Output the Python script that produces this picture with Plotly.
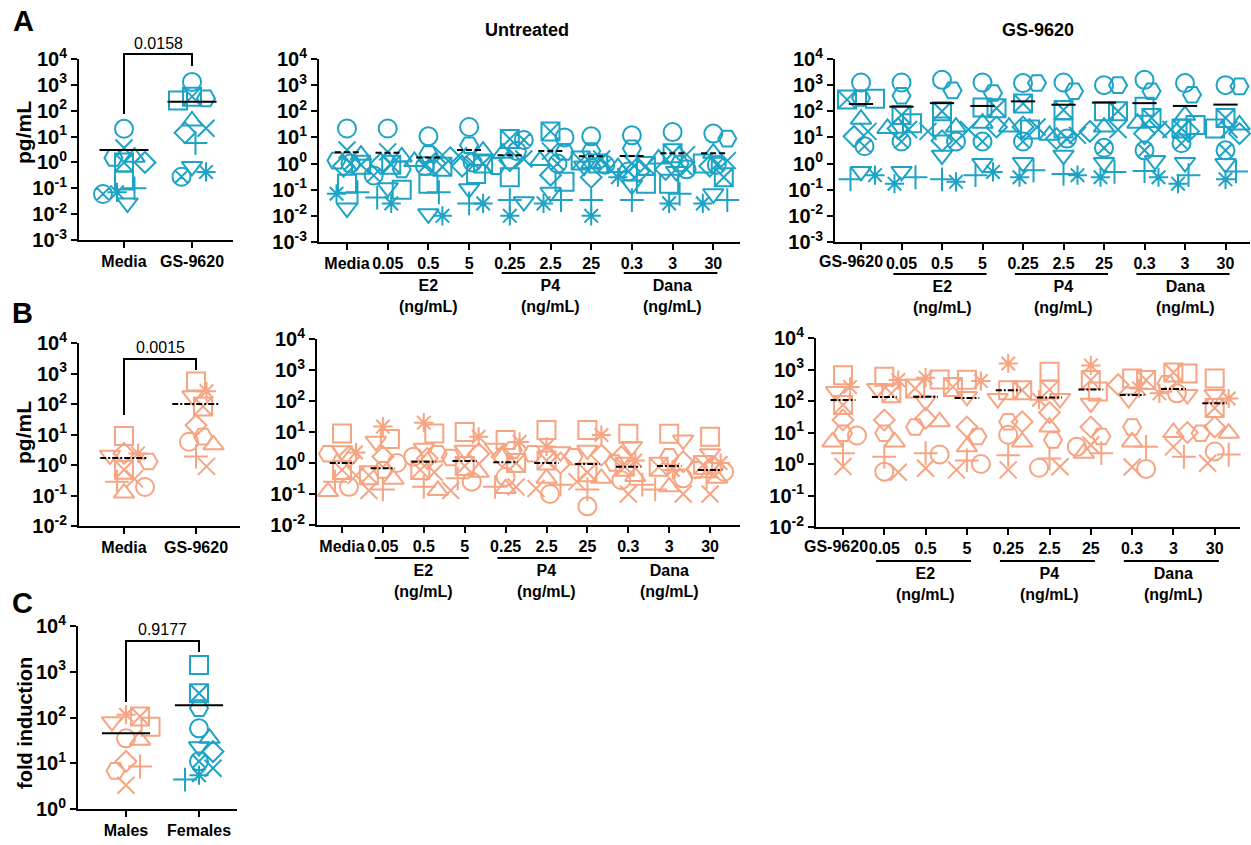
import numpy as np
import plotly.graph_objects as go

W, H = 1251, 845
FONT = "Liberation Sans, Arial, sans-serif"
BLUE = "#1DA3C6"
SALMON = "#F6A482"

# ---------------------------------------------------------------- data
# donor order used by every value list below
FEMALE_DONORS = ["circle", "square", "tri_up", "tri_down", "diamond", "hexagon",
                 "x", "plus", "asterisk", "boxed_x", "circled_x"]
MALE_DONORS = FEMALE_DONORS[:10]

SMALL_GROUPS = ["Media", "GS-9620"]
UNTREATED_GROUPS = ["Media", "0.05", "0.5", "5", "0.25", "2.5", "25", "0.3", "3", "30"]
GS_GROUPS = ["GS-9620", "0.05", "0.5", "5", "0.25", "2.5", "25", "0.3", "3", "30"]
SEX_GROUPS = ["Males", "Females"]
HORMONES = [("E2", (1, 3)), ("P4", (4, 6)), ("Dana", (7, 9))]

# A: females, pg/mL (one list per group, values in FEMALE_DONORS order)
A_SMALL = [
    [20, 0.2, 1.6, 0.027, 1.0, 1.5, 3.6, 0.1, 0.07, 1.0, 0.06],
    [1300, 250, 40, 0.7, 14, 300, 21, 5.6, 0.43, 350, 0.28],
]
A_SMALL_MEAN = [3.0, 220]

A_UNTREATED = [
    [22, 0.17, 2.1, 0.02, 0.8, 1.3, 3.3, 0.08, 0.07, 0.9, 1.0],
    [22, 0.1, 1.8, 0.12, 1.0, 0.6, 2.8, 0.05, 0.03, 0.9, 0.35],
    [11, 0.17, 1.2, 0.012, 1.0, 2.3, 2.1, 0.08, 0.01, 0.75, 0.8],
    [25, 0.4, 3.0, 0.11, 0.8, 5.0, 2.0, 0.03, 0.03, 1.0, 1.1],
    [3.0, 0.3, 2.5, 0.035, 1.3, 0.8, 1.5, 0.04, 0.01, 8.7, 8.0],
    [10, 0.2, 1.3, 0.08, 0.36, 2.8, 3.0, 0.04, 0.03, 17, 1.0],
    [11, 1.0, 1.0, 0.8, 0.3, 3.0, 1.5, 0.04, 0.01, 1.3, 0.9],
    [12, 0.17, 0.7, 0.15, 0.5, 3.8, 1.0, 0.04, 0.3, 0.8, 0.5],
    [16, 0.17, 1.5, 0.5, 0.6, 1.0, 2.2, 0.07, 0.03, 2.5, 0.6],
    [14, 1.0, 2.5, 0.07, 0.8, 9.0, 1.3, 0.04, 0.03, 0.3, 0.9],
]
A_UNTREATED_MEAN = [2.7, 2.6, 1.7, 3.3, 2.1, 3.0, 1.9, 1.95, 2.5, 2.5]

A_GS = [
    [1260, 300, 50, 0.5, 11, 320, 17, 0.25, 0.36, 280, 4.6],
    [1260, 35, 22, 0.5, 22, 390, 20, 0.3, 0.17, 72, 7],
    [1600, 26, 25, 2.1, 7.5, 630, 17, 0.25, 0.2, 100, 7],
    [1260, 140, 35, 1.0, 25, 500, 20, 0.36, 0.48, 130, 7],
    [1200, 20, 25, 1.1, 25, 1200, 25, 0.55, 0.3, 200, 7],
    [1260, 22, 12, 2.1, 9, 580, 12, 0.4, 0.36, 112, 9],
    [1000, 100, 25, 1.1, 17, 1000, 20, 0.48, 0.3, 100, 4],
    [1600, 150, 35, 1.3, 14, 580, 20, 0.52, 0.3, 55, 3.2],
    [1200, 30, 70, 1.1, 17, 430, 20, 0.36, 0.17, 22, 6],
    [1000, 22, 30, 1.0, 14, 900, 20, 0.5, 0.25, 55, 3.2],
]
A_GS_MEAN = [190, 150, 205, 160, 240, 178, 215, 205, 160, 180]

# B: males, pg/mL (values in MALE_DONORS order)
B_SMALL = [
    [0.19, 9, 0.12, 2.1, 2.4, 1.3, 0.35, 0.28, 2.4, 0.7],
    [5.8, 550, 4.6, 185, 20, 8.5, 0.9, 1.9, 260, 83],
]
B_SMALL_MEAN = [1.7, 100]

B_UNTREATED = [
    [0.17, 9, 0.12, 2.5, 1.6, 2.0, 0.4, 0.25, 2.2, 0.6],
    [1.0, 6, 0.3, 5, 1.6, 0.6, 0.13, 0.14, 15, 0.4],
    [1.6, 9, 0.13, 3, 1.4, 2.0, 0.5, 0.17, 20, 0.6],
    [0.25, 10, 0.5, 2.6, 2.0, 1.5, 0.13, 0.32, 7, 0.8],
    [0.36, 5.5, 0.15, 3, 1.6, 2.6, 0.17, 0.17, 4.8, 1.0],
    [0.1, 11.5, 0.32, 2.3, 1.0, 2.0, 0.15, 0.2, 3.4, 1.2],
    [0.04, 11.5, 0.32, 2.6, 1.8, 1.6, 0.25, 0.14, 8, 0.5],
    [0.28, 8.7, 0.37, 3.4, 1.6, 1.0, 0.1, 0.2, 1.2, 0.75],
    [0.32, 8.7, 0.17, 5.5, 1.1, 1.6, 0.1, 0.14, 0.6, 0.75],
    [0.52, 7, 0.32, 2.0, 0.75, 0.6, 0.1, 0.35, 1.0, 0.86],
]
B_UNTREATED_MEAN = [1.0, 0.68, 1.1, 1.15, 1.05, 1.0, 0.93, 0.76, 0.8, 0.6]

B_GS = [
    [8, 660, 5, 200, 25, 9.5, 0.83, 2.2, 280, 75],
    [0.57, 590, 5, 250, 25, 9.5, 0.55, 1.7, 460, 175],
    [2.0, 480, 22, 100, 28, 15, 0.73, 2.2, 550, 250],
    [1.0, 470, 3.5, 140, 15, 7.5, 0.65, 1.3, 430, 280],
    [8.5, 220, 5, 120, 22, 22, 0.65, 1.9, 1550, 220],
    [0.76, 850, 15, 120, 43, 5.8, 0.82, 1.5, 110, 230],
    [3.5, 200, 2.2, 85, 15, 7.5, 4, 2.2, 1350, 460],
    [0.7, 520, 5, 120, 330, 15, 0.8, 3.5, 250, 460],
    [175, 740, 10, 160, 10, 350, 3.5, 1.7, 175, 800],
    [2.5, 520, 9.5, 160, 15, 9.5, 1.05, 2.0, 120, 60],
]
B_GS_MEAN = [107, 135, 137, 125, 220, 130, 230, 155, 240, 85]

# C: fold induction
C_MALES = [35, 63, 32, 81, 11, 6.8, 3.3, 8.5, 115, 105]
C_FEMALES = [58, 1400, 35, 23, 18, 160, 7.8, 4.4, 5.5, 340, 11]
C_MEAN = [45, 186]

P_VALUES = ["0.0158", "0.0015", "0.9177"]

# ---------------------------------------------------------------- styling
SYMBOLS = {
    "circle": "circle-open", "square": "square-open", "tri_up": "triangle-up-open",
    "tri_down": "triangle-down-open", "diamond": "diamond-open",
    "hexagon": "hexagon2-open", "x": "x-thin-open", "plus": "cross-thin-open",
    "asterisk": "asterisk-open", "boxed_x": "square-x-open",
    "circled_x": "circle-x-open",
}
SIZES = {"x": 17, "plus": 17, "asterisk": 16, "diamond": 16}
BASE_SIZE = 18

# plot areas in pixels: x0, x1, y_top, y_bottom, first category px, px per category
PANELS = {
    1: dict(x=(79, 233), y=(59, 240), first=124, step=68, yr=(-3, 4)),
    2: dict(x=(319, 740), y=(59, 242), first=347, step=40.7, yr=(-3, 4)),
    3: dict(x=(835, 1250), y=(59, 242), first=861, step=40.5, yr=(-3, 4)),
    4: dict(x=(79, 240), y=(343, 526), first=124, step=72, yr=(-2, 4)),
    5: dict(x=(317, 740), y=(339, 525), first=342, step=40.9, yr=(-2, 4)),
    6: dict(x=(816, 1240), y=(338, 527), first=843, step=41.3, yr=(-2, 4)),
    7: dict(x=(78, 237), y=(626, 809), first=126, step=73, yr=(0, 4)),
}


def px_x(p):
    return p / W


def px_y(p):
    return 1 - p / H


def swarm_offsets(values, px_per_dec, px_per_unit, diam=13.0, step=3.5, max_px=16):
    """Spread points of one column sideways so that they overlap less."""
    ys = np.log10(np.asarray(values, float)) * px_per_dec
    cands = [0.0]
    k = 1
    while k * step <= max_px:
        cands += [k * step, -k * step]
        k += 1
    placed, out = [], np.zeros(len(ys))
    for i in np.argsort(-ys):
        best, bestd = 0.0, -1.0
        for c in cands:
            d = min((np.hypot(c - px, ys[i] - py) for px, py in placed), default=1e9)
            if d >= diam:
                best = c
                break
            if d > bestd:
                bestd, best = d, c
        out[i] = best
        placed.append((best, ys[i]))
    return out / px_per_unit


fig = go.Figure()
layout = dict(template="none", width=W, height=H, autosize=False,
              margin=dict(l=0, r=0, t=0, b=0, pad=0),
              paper_bgcolor="white", plot_bgcolor="white", showlegend=False,
              font=dict(family=FONT, color="black"))
shapes, annotations = [], []


def axis_name(k, letter):
    return letter + ("" if k == 1 else str(k))


def setup_axes(k, labels):
    p = PANELS[k]
    x0, x1 = p["x"]
    yt, yb = p["y"]
    xr = [-(p["first"] - x0) / p["step"], (x1 - p["first"]) / p["step"]]
    lo, hi = p["yr"]
    decades = list(range(lo, hi + 1))
    common = dict(showline=True, linewidth=2, linecolor="black", ticks="outside",
                  ticklen=6, tickwidth=2, tickcolor="black", showgrid=False,
                  zeroline=False, fixedrange=True, automargin=False)
    layout["xaxis" + ("" if k == 1 else str(k))] = dict(
        domain=[px_x(x0), px_x(x1)], range=xr, anchor=axis_name(k, "y"),
        tickmode="array", tickvals=list(range(len(labels))), ticktext=labels,
        tickangle=0,
        tickfont=dict(size=16, family=FONT, weight="bold", color="black"), **common)
    layout["yaxis" + ("" if k == 1 else str(k))] = dict(
        domain=[px_y(yb), px_y(yt)], type="log", range=[lo, hi],
        anchor=axis_name(k, "x"), tickmode="array",
        tickvals=[10.0 ** d for d in decades],
        ticktext=["10<sup>%d</sup>" % d for d in decades],
        tickfont=dict(size=20, family=FONT, weight="bold", color="black"), **common)


def add_points(k, groups, donors, color, group_index=None):
    """groups: list of value lists (one per column, in donor order)."""
    p = PANELS[k]
    px_dec = (p["y"][1] - p["y"][0]) / (p["yr"][1] - p["yr"][0])
    xs = {d: [] for d in donors}
    ys = {d: [] for d in donors}
    for gi, vals in enumerate(groups):
        col = gi if group_index is None else group_index
        offs = swarm_offsets(vals, px_dec, p["step"], max_px=0.36 * p["step"])
        for d, v, o in zip(donors, vals, offs):
            xs[d].append(col + o)
            ys[d].append(v)
    for d in donors:
        fig.add_trace(go.Scatter(
            x=xs[d], y=ys[d], mode="markers", cliponaxis=False,
            xaxis=axis_name(k, "x"), yaxis=axis_name(k, "y"),
            marker=dict(symbol=SYMBOLS[d], size=SIZES.get(d, BASE_SIZE), color=color,
                        line=dict(color=color, width=2)),
            hoverinfo="y"))


def add_means(k, means, half, dash="solid"):
    xs, ys = [], []
    for i, m in enumerate(means):
        xs += [i - half, i + half, None]
        ys += [m, m, None]
    fig.add_trace(go.Scatter(x=xs, y=ys, mode="lines",
                             xaxis=axis_name(k, "x"), yaxis=axis_name(k, "y"),
                             line=dict(color="black", width=2, dash=dash),
                             hoverinfo="skip"))


def add_bracket(k, y_left, y_top, y_right, text, text_y):
    xref = axis_name(k, "x")
    path = "M 0,%f L 0,%f L 1,%f L 1,%f" % (px_y(y_left), px_y(y_top), px_y(y_top), px_y(y_right))
    shapes.append(dict(type="path", xref=xref, yref="paper", path=path,
                       line=dict(color="black", width=2)))
    annotations.append(dict(x=0.5, y=px_y(text_y), xref=xref, yref="paper", text=text,
                            showarrow=False, xanchor="center", yanchor="middle",
                            font=dict(size=16, family=FONT, color="black")))


def add_group_labels(k, line_y, text_top):
    xref = axis_name(k, "x")
    for name, (a, b) in HORMONES:
        shapes.append(dict(type="line", xref=xref, yref="paper",
                           x0=a - 0.2, x1=b + 0.1, y0=px_y(line_y), y1=px_y(line_y),
                           line=dict(color="black", width=2)))
        annotations.append(dict(x=(a + b) / 2, y=px_y(text_top), xref=xref, yref="paper",
                                text=name + "<br>(ng/mL)", showarrow=False,
                                xanchor="center", yanchor="top", align="center",
                                font=dict(size=16, family=FONT, weight="bold",
                                          color="black")))


def paper_text(x, y, text, size, angle=0, bold=True):
    annotations.append(dict(x=px_x(x), y=px_y(y), xref="paper", yref="paper", text=text,
                            showarrow=False, xanchor="center", yanchor="middle",
                            textangle=angle,
                            font=dict(size=size, family=FONT, color="black",
                                      weight="bold" if bold else "normal")))


def shift_first_label(k, x_center, y_center):
    """Move the first category label a little left of its tick."""
    key = "xaxis" + ("" if k == 1 else str(k))
    text = layout[key]["ticktext"][0]
    layout[key]["ticktext"] = [""] + list(layout[key]["ticktext"][1:])
    paper_text(x_center, y_center, text, 16)


# ---------------------------------------------------------------- panel A
setup_axes(1, SMALL_GROUPS)
add_points(1, A_SMALL, FEMALE_DONORS, BLUE)
add_means(1, A_SMALL_MEAN, 0.36)
add_bracket(1, 114, 54, 66, P_VALUES[0], 44)

setup_axes(2, UNTREATED_GROUPS)
add_points(2, A_UNTREATED, FEMALE_DONORS, BLUE)
add_means(2, A_UNTREATED_MEAN, 0.3, dash="6px,3px")
add_group_labels(2, 273, 275)

setup_axes(3, GS_GROUPS)
add_points(3, A_GS, FEMALE_DONORS, BLUE)
add_means(3, A_GS_MEAN, 0.3)
add_group_labels(3, 274, 276)
shift_first_label(3, 851, 261)

# ---------------------------------------------------------------- panel B
setup_axes(4, SMALL_GROUPS)
add_points(4, B_SMALL, MALE_DONORS, SALMON)
add_means(4, B_SMALL_MEAN, 0.33, dash="6px,2px,2px,2px")
add_bracket(4, 415, 359, 370, P_VALUES[1], 347)

setup_axes(5, UNTREATED_GROUPS)
add_points(5, B_UNTREATED, MALE_DONORS, SALMON)
add_means(5, B_UNTREATED_MEAN, 0.3, dash="6px,2px,2px,2px")
add_group_labels(5, 558, 560)

setup_axes(6, GS_GROUPS)
add_points(6, B_GS, MALE_DONORS, SALMON)
add_means(6, B_GS_MEAN, 0.3, dash="6px,2px,2px,2px")
add_group_labels(6, 561, 563)
shift_first_label(6, 836, 546)

# ---------------------------------------------------------------- panel C
setup_axes(7, SEX_GROUPS)
add_points(7, [C_MALES], MALE_DONORS, SALMON, group_index=0)
add_points(7, [C_FEMALES], FEMALE_DONORS, BLUE, group_index=1)
add_means(7, C_MEAN, 0.33)
add_bracket(7, 702, 641, 652, P_VALUES[2], 629)

# ---------------------------------------------------------------- text
paper_text(23, 21, "A", 29)
paper_text(22, 313, "B", 29)
paper_text(22, 603, "C", 29)
paper_text(527, 30, "Untreated", 18)
paper_text(1038, 30, "GS-9620", 18)
paper_text(23, 133, "pg/mL", 21, angle=-90)
paper_text(23, 433, "pg/mL", 21, angle=-90)
paper_text(25, 723, "fold induction", 20, angle=-90)

layout["shapes"] = shapes
layout["annotations"] = annotations
fig.update_layout(**layout)
fig.write_html("out.html")
